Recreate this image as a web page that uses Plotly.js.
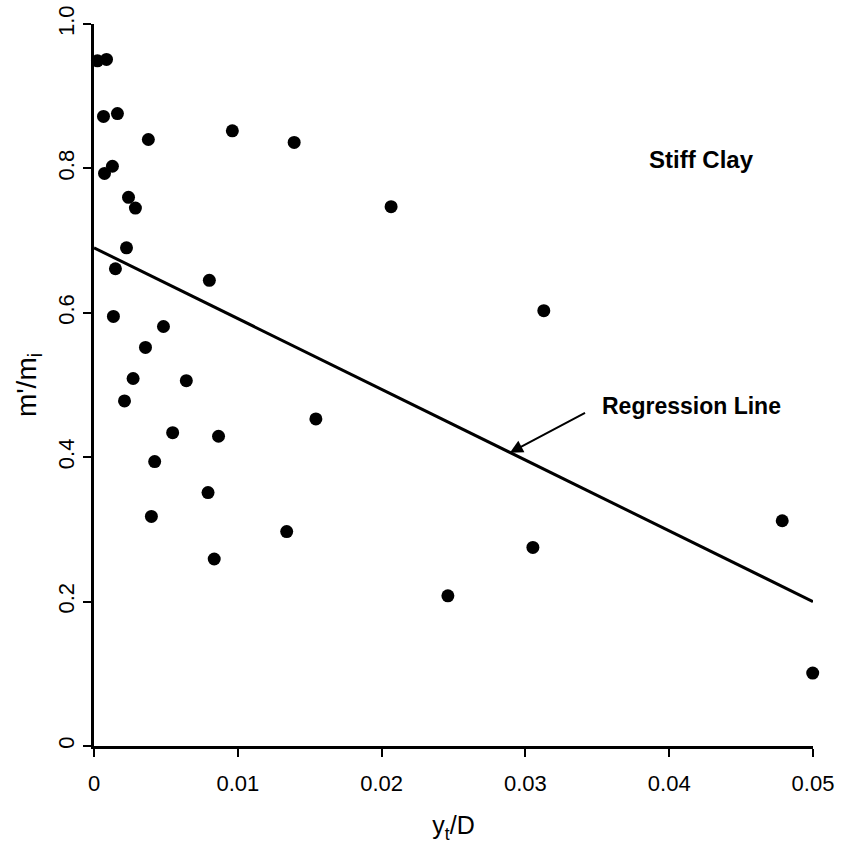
<!DOCTYPE html>
<html>
<head>
<meta charset="utf-8">
<script src="https://cdn.plot.ly/plotly-3.0.1.min.js"></script>
<style>html,body{margin:0;padding:0;background:#fff;}#chart{width:844px;height:854px;}</style>
</head>
<body>
<div id="chart"></div>
<script>
// Measured data points (y_t/D, m'/m_i)
const ytD = [0.00024, 0.00087, 0.00066, 0.00163, 0.00378, 0.00962, 0.01392, 0.00073, 0.00128, 0.0024,
             0.00288, 0.00226, 0.00149, 0.00802, 0.02066, 0.03128, 0.00135, 0.00483, 0.00358, 0.00272,
             0.00642, 0.00212, 0.00547, 0.00866, 0.00422, 0.00793, 0.00399, 0.0134, 0.00836, 0.02461,
             0.04998, 0.01543, 0.03052, 0.04786];
const mRatio = [0.949, 0.951, 0.872, 0.876, 0.840, 0.852, 0.836, 0.793, 0.803, 0.760,
                0.745, 0.690, 0.661, 0.645, 0.747, 0.603, 0.595, 0.581, 0.552, 0.509,
                0.506, 0.478, 0.434, 0.429, 0.394, 0.351, 0.318, 0.297, 0.259, 0.208,
                0.101, 0.453, 0.275, 0.312];
// Regression line end points
const regX = [0, 0.05];
const regY = [0.69, 0.2];
// Ticks
const xTickVals = [0, 0.01, 0.02, 0.03, 0.04, 0.05];
const xTickText = ["0", "0.01", "0.02", "0.03", "0.04", "0.05"];
const yTickVals = [0, 0.2, 0.4, 0.6, 0.8, 1.0];
const yTickText = ["0", "0.2", "0.4", "0.6", "0.8", "1.0"];

const font = "'Liberation Sans', Arial, sans-serif";

const traces = [
  {x: regX, y: regY, mode: 'lines', type: 'scatter', line: {color: '#000', width: 3}, hoverinfo: 'skip', cliponaxis: false},
  {x: ytD, y: mRatio, mode: 'markers', type: 'scatter', marker: {color: '#000', size: 13}, cliponaxis: false}
];

const layout = {
  width: 844, height: 854,
  margin: {l: 93.5, r: 30.7, t: 24.3, b: 108.3},
  paper_bgcolor: '#fff', plot_bgcolor: '#fff',
  showlegend: false,
  font: {family: font, color: '#000', size: 22},
  xaxis: {
    range: [0, 0.05], tickvals: xTickVals, ticktext: xTickText,
    showgrid: false, zeroline: false, showline: true, linecolor: '#000', linewidth: 3,
    ticks: 'outside', ticklen: 8, tickwidth: 2, tickcolor: '#000', ticklabelstandoff: 8,
    tickfont: {family: font, size: 22, color: '#000'},
    title: {text: 'y<sub>t</sub>/D', font: {family: font, size: 25, color: '#000'}, standoff: 22}
  },
  yaxis: {
    range: [0, 1], tickvals: yTickVals, ticktext: yTickText,
    showgrid: false, zeroline: false, showline: true, linecolor: '#000', linewidth: 3,
    ticks: 'outside', ticklen: 8, tickwidth: 2, tickcolor: '#000', tickangle: -90,
    tickfont: {family: font, size: 22, color: '#000'},
    title: {text: "m'/m<sub>i</sub>", font: {family: font, size: 28, color: '#000'}, standoff: 10}
  },
  annotations: [
    {x: 0.04222, y: 0.8117, xref: 'x', yref: 'y', text: '<b>Stiff Clay</b>', showarrow: false,
     font: {family: font, size: 24, color: '#000'}},
    {x: 0.04156, y: 0.4713, xref: 'x', yref: 'y', text: '<b>Regression Line</b>', showarrow: false,
     font: {family: font, size: 23, color: '#000'}},
    {x: 0.02892, y: 0.4063, xref: 'x', yref: 'y', ax: 0.03425, ay: 0.4626, axref: 'x', ayref: 'y',
     text: '', showarrow: true, arrowhead: 2, arrowsize: 1.3, arrowwidth: 2, arrowcolor: '#000'}
  ]
};

Plotly.newPlot('chart', traces, layout, {displayModeBar: false, staticPlot: true});
</script>
</body>
</html>
